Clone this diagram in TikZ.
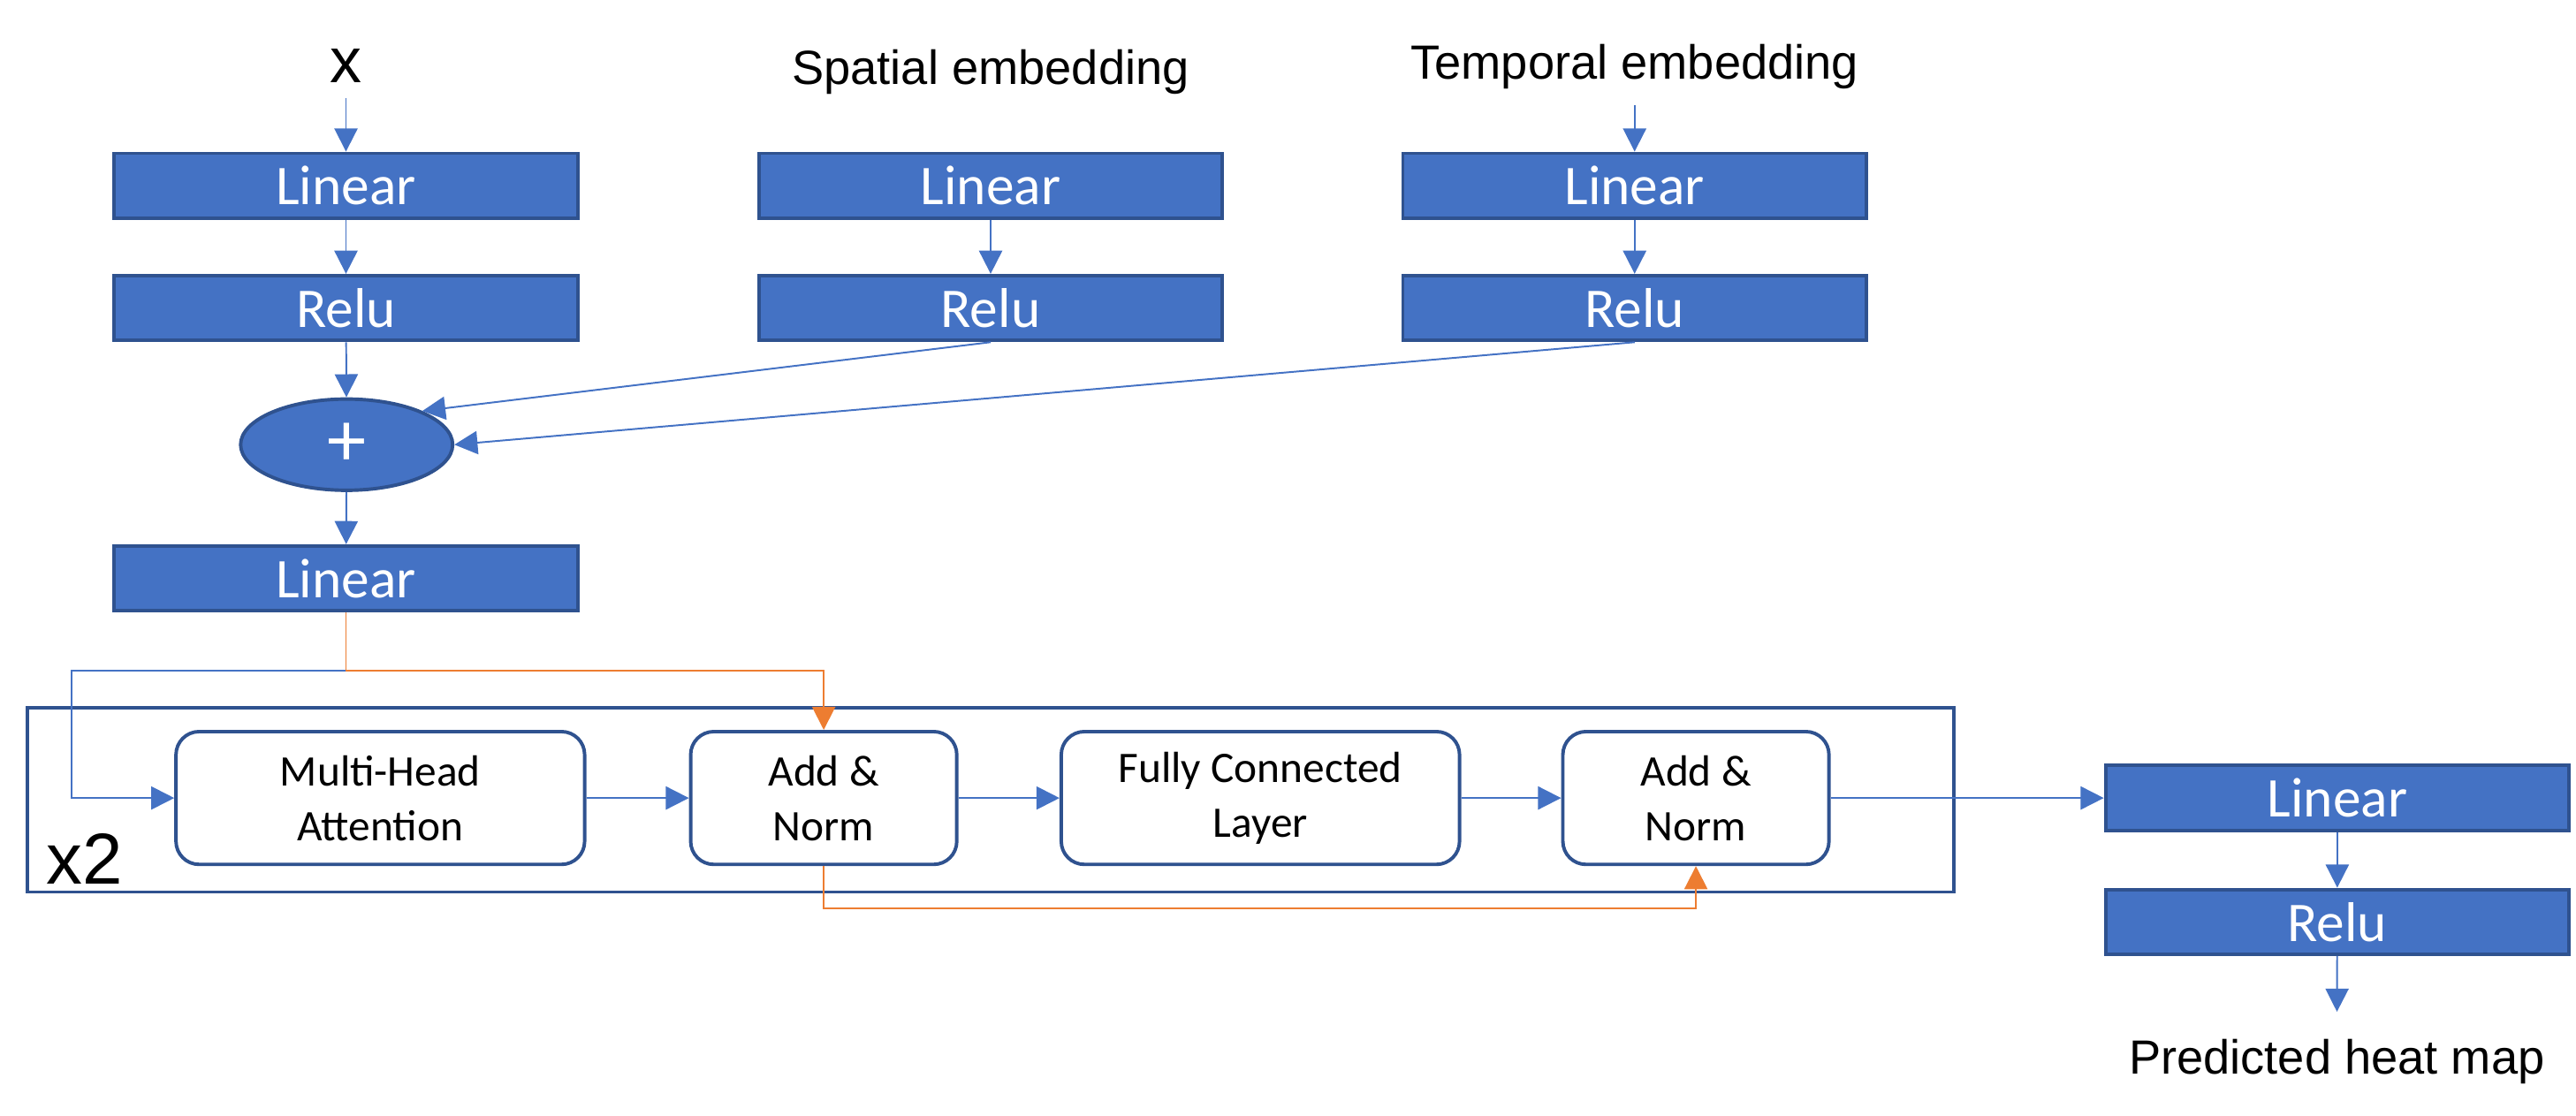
\documentclass[tikz,border=0pt]{standalone}
\usepackage{fontspec}
\setmainfont{Liberation Sans}
\newfontfamily\boxfont{Carlito}
\usetikzlibrary{arrows.meta,shapes.geometric}
\definecolor{blockblue}{HTML}{4472C4}
\definecolor{edgeblue}{HTML}{2F528F}
\definecolor{skiporange}{HTML}{ED7D31}
\begin{document}
\begin{tikzpicture}[x=0.01cm,y=-0.01cm,
    block/.style={draw=edgeblue, line width=0.6pt, fill=blockblue, text=white,
        minimum width=2.82cm, minimum height=0.395cm, inner sep=0pt,
        font=\boxfont\fontsize{9.7pt}{11pt}\selectfont},
    layer/.style={draw=edgeblue, line width=0.6pt, rounded corners=4pt,
        minimum height=0.808cm, inner sep=0pt, align=center,
        font=\boxfont\fontsize{7.55pt}{9.5pt}\selectfont},
    caption/.style={inner sep=2.5pt, font=\fontsize{8.3pt}{10pt}\selectfont},
    conn/.style={->, draw=blockblue, line width=0.3pt},
    res/.style={->, draw=skiporange, line width=0.3pt},
    >={Triangle[length=4pt,width=4pt]}]
            \useasboundingbox (0,0) rectangle (1568,679);
            \node[caption, anchor=base, font=\fontsize{11pt}{12pt}\selectfont] (inx) at (210.6,50.4) {x};
            \node[caption, anchor=base] (spemb) at (603,51.5) {Spatial embedding};
            \node[caption, anchor=base] (tpemb) at (995,48.4) {Temporal embedding};
            \node[block] (xlin) at (210.6,113.1) {Linear};
            \node[block] (xrelu) at (210.6,187.5) {Relu};
            \node[block] (slin) at (603,113.1) {Linear};
            \node[block] (srelu) at (603,187.5) {Relu};
            \node[block] (tlin) at (995,113.1) {Linear};
            \node[block] (trelu) at (995,187.5) {Relu};
            \node[ellipse, draw=edgeblue, line width=0.6pt, fill=blockblue, text=white,
                minimum width=1.29cm, minimum height=0.555cm, inner sep=0pt,
                font=\boxfont\fontsize{13.5pt}{14pt}\selectfont] (plus) at (211,270.7) {+};
            \node[block] (inlin) at (210.6,352.1) {Linear};
            \node[draw=edgeblue, line width=0.6pt, minimum width=11.72cm, minimum height=1.12cm,
                inner sep=0pt] (stack) at (602.8,487) {};
            \node[anchor=base west, inner sep=0pt, font=\fontsize{12.5pt}{13pt}\selectfont] (rep) at (27.7,538) {x2};
            \node[layer, minimum width=2.486cm] (mha) at (231.5,485.8) {Multi-Head\\Attention};
            \node[layer, minimum width=1.619cm] (addone) at (501.4,485.8) {Add \&\\Norm};
            \node[layer, minimum width=2.423cm] (fc) at (767.2,485.8) {Fully Connected\\Layer};
            \node[layer, minimum width=1.619cm] (addtwo) at (1032.3,485.8) {Add \&\\Norm};
            \node[block] (outlin) at (1422.7,485.8) {Linear};
            \node[block] (outrelu) at (1422.7,561.2) {Relu};
            \node[caption, anchor=base, inner sep=4.5pt] (pred) at (1422.4,653.6) {Predicted heat map};
            \coordinate (split) at (210.6,408.1);
            \coordinate (bend) at (43.7,408.1);
            \coordinate (low) at (766,553.2);
            \draw[conn] (inx) -- (xlin);
            \draw[conn] (xlin) -- (xrelu);
            \draw[conn] (slin) -- (srelu);
            \draw[conn] (tpemb) -- (tlin);
            \draw[conn] (tlin) -- (trelu);
            \draw[conn] (xrelu) -- (plus);
            \draw[conn] (srelu.south) -- (plus.24);
            \draw[conn] (trelu.south) -- (plus.east);
            \draw[conn] (plus) -- (inlin);
            \draw[conn] (split) -- (bend) |- (mha);
            \draw[res] (inlin) -- (split) -| (addone);
            \draw[conn] (mha) -- (addone);
            \draw[conn] (addone) -- (fc);
            \draw[conn] (fc) -- (addtwo);
            \draw[conn] (addtwo) -- (outlin);
            \draw[res] (addone.south) |- (low) -| (addtwo);
            \draw[conn] (outlin) -- (outrelu);
            \draw[conn] (outrelu) -- (pred);
        \end{tikzpicture}
\end{document}
